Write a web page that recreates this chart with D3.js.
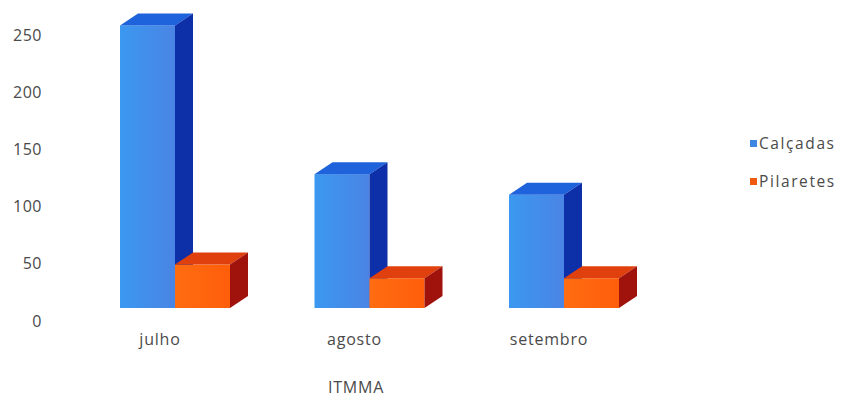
<!DOCTYPE html>
<html><head><meta charset="utf-8">
<script src="https://cdn.jsdelivr.net/npm/d3@7"></script>
<style>body{margin:0;background:#fff}svg{display:block}text{font-family:"Open Sans",sans-serif;fill:#4a4a4a}</style>
</head><body><svg id="c" width="847" height="401"></svg>
<script>
const categories = ["julho","agosto","setembro"];
const series = ["Calçadas","Pilaretes"];
const calcadas = [247,117,99];
const pilaretes = [38,26,26];
const yTicks = [0,50,100,150,200,250];
const axisTitle = "ITMMA";

const values = [calcadas, pilaretes];
const colors = [
  {front:["#3b98f0","#4a84e4"], top:"#1f63dc", side:"#0d2fa8", legend:"#3d86e2"},
  {front:["#ff6c12","#ff5e0a"], top:"#e0400e", side:"#a0120c", legend:"#f05a10"}
];
const svg = d3.select("#c");
const defs = svg.append("defs");
colors.forEach((c,i)=>{
  const g = defs.append("linearGradient").attr("id","g"+i).attr("x1","0").attr("x2","1").attr("y1","0").attr("y2","0");
  g.append("stop").attr("offset","0").attr("stop-color",c.front[0]);
  g.append("stop").attr("offset","1").attr("stop-color",c.front[1]);
});
const y = d3.scaleLinear().domain([0,250]).range([308,22]);
const x = d3.scalePoint().domain(categories).range([175,564]);
const sub = d3.scaleBand().domain(series).range([-55,55]);
const dx = 18, dy = -12;
const y0 = y(0);

// y axis labels
const yAxis = d3.axisLeft(y).tickValues(yTicks).tickSize(0).tickPadding(0);
const ga = svg.append("g").attr("transform","translate(42,13)").call(yAxis);
ga.select(".domain").remove();
ga.selectAll("text").style("font-family","'Open Sans',sans-serif").style("font-size","16px").attr("fill","#4a4a4a").style("letter-spacing","0.5px");

const gBars = svg.append("g");
categories.forEach((cat,ci)=>{
  series.forEach((s,si)=>{
    const v = values[si][ci];
    const xl = x(cat)+sub(s), w = sub.bandwidth(), yt = y(v);
    const c = colors[si];
    const g = gBars.append("g");
    g.append("rect").attr("x",xl).attr("y",yt).attr("width",w).attr("height",y0-yt).attr("fill","url(#g"+si+")");
    g.append("polygon").attr("points",[[xl,yt],[xl+dx,yt+dy],[xl+w+dx,yt+dy],[xl+w,yt]].map(p=>p.join(",")).join(" ")).attr("fill",c.top);
    g.append("polygon").attr("points",[[xl+w,yt],[xl+w+dx,yt+dy],[xl+w+dx,y0+dy],[xl+w,y0]].map(p=>p.join(",")).join(" ")).attr("fill",c.side);
  });
});

// x labels
svg.append("g").selectAll("text").data(categories).join("text")
  .attr("x",d=>x(d)-15).attr("y",345).attr("text-anchor","middle")
  .style("font-size","16px").style("letter-spacing","0.8px").text(d=>d);
svg.append("text").attr("x",356).attr("y",393).attr("text-anchor","middle")
  .style("font-size","16px").style("letter-spacing","0.8px").text(axisTitle);

// legend
const lg = svg.append("g").attr("transform","translate(750,0)");
series.forEach((s,i)=>{
  const cy = 144 + i*38;
  lg.append("rect").attr("x",0).attr("y",cy-4).attr("width",7).attr("height",7).attr("fill",colors[i].legend);
  lg.append("text").attr("x",9).attr("y",cy+5).style("font-size","15.5px").style("letter-spacing","1.6px").text(s);
});
</script></body></html>
